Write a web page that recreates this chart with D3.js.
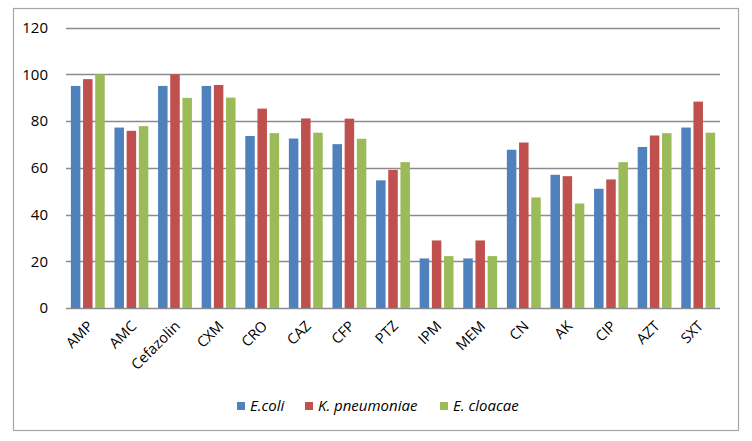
<!DOCTYPE html>
<html><head><meta charset="utf-8">
<script src="https://cdn.jsdelivr.net/npm/d3@7"></script>
<style>body{margin:0;background:#fff}svg{display:block}text{font-family:"Open Sans",Calibri,sans-serif;fill:#000}</style>
</head><body><svg id="c" width="752" height="441"></svg>
<script>
const categories = ["AMP","AMC","Cefazolin","CXM","CRO","CAZ","CFP","PTZ","IPM","MEM","CN","AK","CIP","AZT","SXT"];
const seriesNames = ["E.coli","K. pneumoniae","E. cloacae"];
const ecoli = [95,77.2,95,95,73.6,72.5,70.1,54.6,21.2,21.2,67.7,57,51,68.9,77.2];
const kpneu = [97.9,75.8,100,95.4,85.3,81.1,81,59.1,28.9,28.9,70.8,56.4,55,73.8,88.3];
const eclo = [100,77.8,89.9,90,74.8,75,72.4,62.4,22.2,22.2,47.3,44.7,62.4,74.8,75];
const yTicks = [0,20,40,60,80,100,120];
const colors = ["#4F81BD","#C0504D","#9BBB59"];
const series = [ecoli,kpneu,eclo];

const svg = d3.select("#c");
svg.append("rect").attr("x",13.5).attr("y",8.5).attr("width",725).attr("height",422)
  .attr("fill","#fff").attr("stroke","#A6A6A6").attr("stroke-width",1.2);

const x = d3.scaleBand().domain(categories).range([66,720]);
const y = d3.scaleLinear().domain([0,120]).range([308,27.5]);
const xs = d3.scaleBand().domain([0,1,2]).range([0,x.bandwidth()]).paddingInner(0.22).paddingOuter(0.4);

const g = svg.append("g");
g.selectAll("line.grid").data(yTicks).join("line").attr("class","grid")
  .attr("x1",66).attr("x2",720).attr("y1",d=>Math.round(y(d))+0.5).attr("y2",d=>Math.round(y(d))+0.5)
  .attr("stroke","#8C8C8C").attr("stroke-width",1.3);
g.selectAll("text.yt").data(yTicks).join("text").attr("class","yt")
  .attr("x",48).attr("y",d=>y(d)).attr("dy","0.35em").attr("text-anchor","end")
  .attr("font-size",15).text(d=>d);

series.forEach((s,i)=>{
  g.selectAll("rect.s"+i).data(s).join("rect").attr("class","s"+i)
    .attr("x",(d,j)=>x(categories[j])+xs(i))
    .attr("width",xs.bandwidth())
    .attr("y",d=>y(d)).attr("height",d=>y(0)-y(d))
    .attr("fill",colors[i]);
});

const lx = d => x(d)+x.bandwidth()/2+6;
const ly = 327;
g.selectAll("text.xl").data(categories).join("text").attr("class","xl")
  .attr("x",lx).attr("y",ly)
  .attr("text-anchor","end").attr("font-size",14.5)
  .attr("transform",d=>`rotate(-45,${lx(d)},${ly})`)
  .text(d=>d);

const legX = [237,305,440];
const lg = svg.append("g");
seriesNames.forEach((n,i)=>{
  lg.append("rect").attr("x",legX[i]).attr("y",402).attr("width",8).attr("height",8).attr("fill",colors[i]);
  lg.append("text").attr("x",legX[i]+13).attr("y",410.5)
    .attr("font-size",15).attr("font-style","italic").text(n);
});
</script></body></html>
